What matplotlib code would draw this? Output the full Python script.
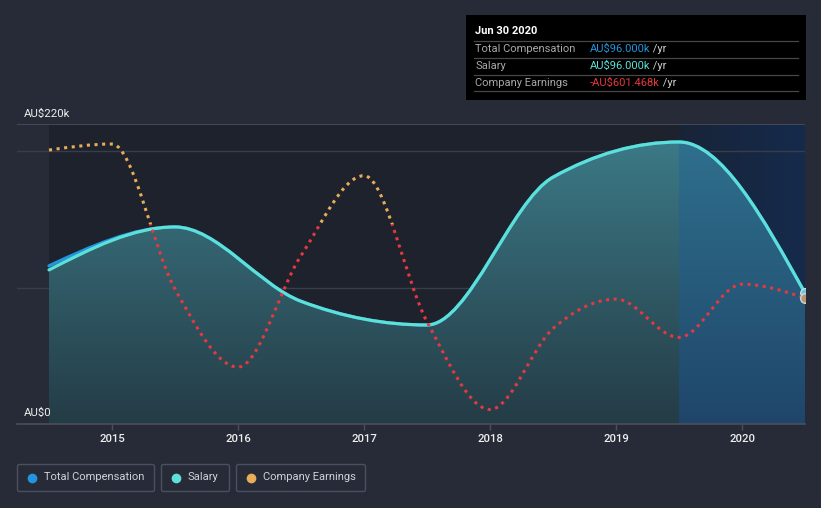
import numpy as np
import matplotlib
matplotlib.use("Agg")
import matplotlib.pyplot as plt
import matplotlib.transforms as mtrans
from matplotlib.path import Path
from matplotlib.patches import PathPatch, Rectangle, FancyBboxPatch
from matplotlib.colors import to_rgb

plt.rcParams['font.family'] = ['Roboto', 'DejaVu Sans']

# ---------------- data ----------------
comp_dates = [2014.5, 2015.5, 2016.5, 2017.5, 2018.5, 2019.5, 2020.5]
salary_k = [113.0, 144.5, 90.0, 72.6, 181.0, 206.8, 96.0]
total_comp_k = [116.0, 144.5, 90.0, 72.6, 181.0, 206.8, 96.0]

earn_dates = [2014.5, 2015.0, 2015.5, 2016.0, 2016.5, 2017.0, 2017.5,
              2018.0, 2018.5, 2019.0, 2019.5, 2020.0, 2020.5]
earnings_k = [601, 650, -529, -1163, -257, 393, -794,
              -1508, -850, -610, -922, -489, -601.468]

year_ticks = [2015, 2016, 2017, 2018, 2019, 2020]
y_label_top = "AU$220k"
y_label_bottom = "AU$0"

tooltip_title = "Jun 30 2020"
tooltip_rows = [("Total Compensation", "AU$96.000k", "#2394df"),
                ("Salary", "AU$96.000k", "#5ce0d8"),
                ("Company Earnings", "-AU$601.468k", "#e5393f")]
legend_items = [("Total Compensation", "#2394df"),
                ("Salary", "#5ce0d8"),
                ("Company Earnings", "#e8ac5b")]

# ---------------- helpers ----------------
def monotone_path(xs, ys):
    xs = np.asarray(xs, float); ys = np.asarray(ys, float)
    n = len(xs)
    h = np.diff(xs)
    s = np.diff(ys) / h
    t = np.zeros(n)
    for i in range(1, n - 1):
        h0, h1 = h[i - 1], h[i]
        s0, s1 = s[i - 1], s[i]
        p = (s0 * h1 + s1 * h0) / (h0 + h1)
        t[i] = (np.sign(s0) + np.sign(s1)) * min(abs(s0), abs(s1), 0.5 * abs(p))
    t[0] = (3 * s[0] - t[1]) / 2
    t[-1] = (3 * s[-1] - t[-2]) / 2
    verts = [(xs[0], ys[0])]
    codes = [Path.MOVETO]
    for i in range(n - 1):
        d = h[i] / 3
        verts += [(xs[i] + d, ys[i] + d * t[i]),
                  (xs[i + 1] - d, ys[i + 1] - d * t[i + 1]),
                  (xs[i + 1], ys[i + 1])]
        codes += [Path.CURVE4] * 3
    return verts, codes

# ---------------- figure ----------------
BG = '#262b37'
fig = plt.figure(figsize=(8.21, 5.08), dpi=100, facecolor=BG)
ax = fig.add_axes([17/821, 84/508, 788/821, 300/508])
ax.set_facecolor('none')
x0, x1 = 2014.246, 2020.5
ax.set_xlim(x0, x1)
ax.set_ylim(0, 220)

# plot backgrounds
ax.axvspan(comp_dates[0], 2019.5, color='#1e222c', zorder=0, lw=0)
nav = np.zeros((2, 64, 3))
c_l, c_r = np.array(to_rgb('#182438')), np.array(to_rgb('#152a4c'))
for j in range(64):
    f = j / 63
    nav[:, j, :] = c_l * (1 - f) + c_r * f
ax.imshow(nav, extent=[2019.5, 2020.5, 0, 220], aspect='auto', zorder=0.2,
          interpolation='bilinear')

# grid lines
for gy in [100, 200]:
    ax.axhline(gy, color='#383d49', lw=1.0, zorder=0.5)
ax.axhline(220, color='#4a4f5b', lw=1.2, zorder=0.5)

# salary fill (gradient clipped to area under curve)
sv, sc = monotone_path(comp_dates, salary_k)
fill_verts = sv + [(comp_dates[-1], 0), (comp_dates[0], 0), (comp_dates[0], salary_k[0])]
fill_codes = sc + [Path.LINETO, Path.LINETO, Path.CLOSEPOLY]
fill_patch = PathPatch(Path(fill_verts, fill_codes), transform=ax.transData,
                       facecolor='none', edgecolor='none')
ax.add_patch(fill_patch)
H, W = 200, 600
grad = np.zeros((H, W, 3))
teal_top, teal_bot = np.array(to_rgb('#3d7d8a')), np.array(to_rgb('#243c46'))
blue_top, blue_bot = np.array(to_rgb('#30728f')), np.array(to_rgb('#1f466a'))
xcols = np.linspace(comp_dates[0], comp_dates[-1], W)
for i in range(H):
    f = i / (H - 1)
    grad[i, xcols < 2019.5] = teal_top * (1 - f) + teal_bot * f
    grad[i, xcols >= 2019.5] = blue_top * (1 - f) + blue_bot * f
im = ax.imshow(grad, extent=[comp_dates[0], comp_dates[-1], 0, 220], aspect='auto',
               zorder=1, interpolation='bilinear')
im.set_clip_path(fill_patch)

# lines
tv, tc = monotone_path(comp_dates, total_comp_k)
ax.add_patch(PathPatch(Path(tv, tc), facecolor='none', edgecolor='#2394df',
                       lw=2.3, zorder=3, capstyle='round'))
ax.add_patch(PathPatch(Path(sv, sc), facecolor='none', edgecolor='#5ce0d8',
                       lw=2.3, zorder=4, capstyle='round'))
ax.plot([comp_dates[-1]], [salary_k[-1]], 'o', ms=7, mfc='#5ccde0', mec='#c8d8e6',
        mew=1, zorder=6)

# earnings on twin axis
ax2 = ax.twinx()
ax2.set_ylim(-1625.6, 812.8)
ax2.set_xlim(x0, x1)
ax2.patch.set_visible(False)
for sp in ax2.spines.values():
    sp.set_visible(False)
ax2.set_yticks([])
ev, ec = monotone_path(earn_dates, earnings_k)
epath = Path(ev, ec)
above = Rectangle((x0, 0), x1 - x0, 5000, transform=ax2.transData)
below = Rectangle((x0, -5000), x1 - x0, 5000, transform=ax2.transData)
for col, clip in [('#e8ac5b', above), ('#e5393f', below)]:
    pp = PathPatch(epath, facecolor='none', edgecolor=col, lw=2.2,
                   linestyle=(0, (1, 1.5)), zorder=5)
    ax2.add_patch(pp)
    pp.set_clip_path(clip)
ax2.plot([earn_dates[-1]], [earnings_k[-1]], 'o', ms=7, mfc='#b8956a', mec='#c8d8e6',
         mew=1, zorder=6)

# axes styling
for name, sp in ax.spines.items():
    sp.set_visible(name == 'bottom')
ax.spines['bottom'].set_color('#4a4f5b')
ax.spines['bottom'].set_linewidth(1.2)
ax.set_xticks(year_ticks)
ax.set_xticklabels([str(y) for y in year_ticks], fontweight='medium')
ax.tick_params(axis='x', colors='#4a4f5b', length=4, width=1, labelcolor='#eeeeee',
               labelsize=8.2, pad=3)
ax.set_yticks([])
ax.text(7/788, 1.034, y_label_top, transform=ax.transAxes, color='#eeeeee',
        fontsize=8.2, va='center', ha='left')
ax.text(7/788, 0.038, y_label_bottom, transform=ax.transAxes, color='#eeeeee',
        fontsize=8.2, va='center', ha='left')

# overlay for tooltip & legend (pixel coords)
oax = fig.add_axes([0, 0, 1, 1], zorder=10)
oax.set_xlim(0, 821)
oax.set_ylim(508, 0)
oax.axis('off')
oax.patch.set_visible(False)

oax.add_patch(Rectangle((466, 15), 340, 85, facecolor='black', edgecolor='none'))
oax.text(475, 31.5, tooltip_title, color='white', fontsize=8, fontweight='bold',
         va='center', ha='left')
for yy in [40.5, 57.5, 74.5, 91.0]:
    oax.plot([474, 798], [yy, yy], color='#474747', lw=0.9)
fig.canvas.draw()
renderer = fig.canvas.get_renderer()
blend = mtrans.blended_transform_factory(mtrans.IdentityTransform(), oax.transData)
for k, (lab, val, col) in enumerate(tooltip_rows):
    yy = 49 + 17 * k
    oax.text(475, yy, lab, color='#a8a8a8', fontsize=8, va='center', ha='left')
    t = oax.text(590, yy, val, color=col, fontsize=8, va='center', ha='left')
    bb = t.get_window_extent(renderer=renderer)
    oax.text(bb.x1, yy, " /yr", color='#d0d0d0', fontsize=8, va='center', ha='left',
             transform=blend)

boxes = [(17, 155), (161, 230), (236, 366)]
for (bx0, bx1), (lab, col) in zip(boxes, legend_items):
    oax.add_patch(FancyBboxPatch((bx0 + 0.5, 464.5), bx1 - bx0 - 1, 27,
                                 boxstyle='round,pad=0,rounding_size=2',
                                 facecolor='none', edgecolor='#4b5061', lw=1))
    oax.plot([bx0 + 15], [477.5], 'o', ms=7, color=col, mec='none')
    oax.text(bx0 + 27, 477.5, lab, color='#cfd2d8', fontsize=8, va='center', ha='left')

fig.savefig('out.png', dpi=100, facecolor=BG)
